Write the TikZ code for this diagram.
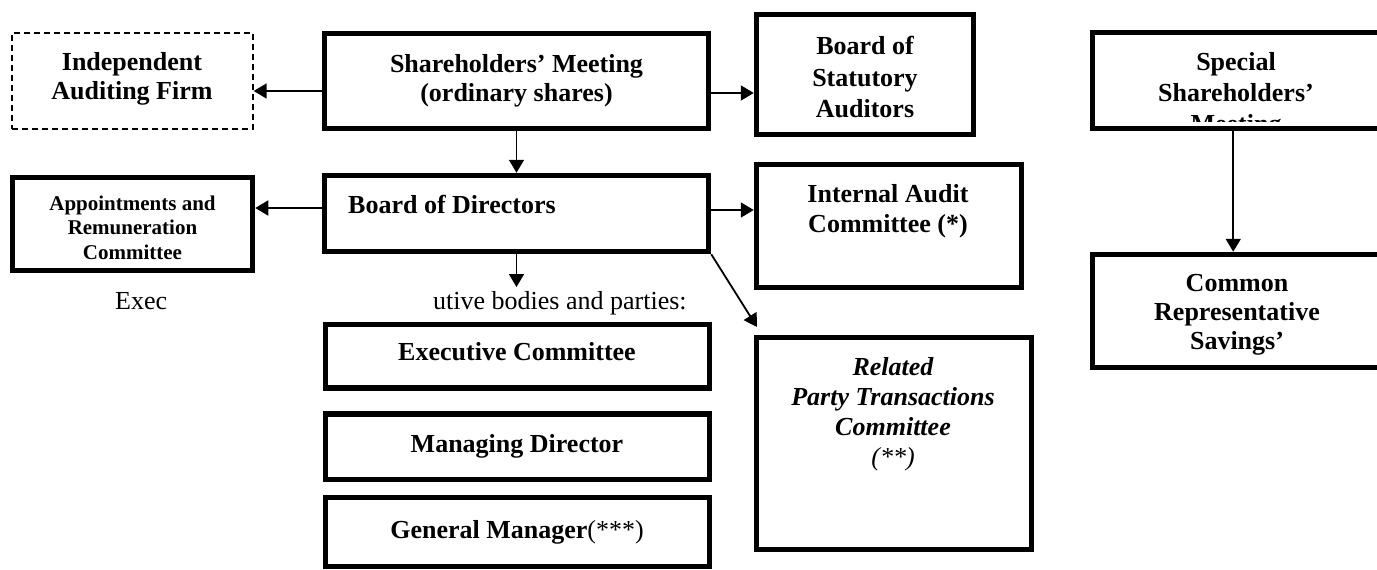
\documentclass[tikz,border=0pt]{standalone}
\usepackage{fontspec}
\setmainfont{Liberation Serif}
\usetikzlibrary{arrows.meta,calc}
\begin{document}
\begin{tikzpicture}[x=1pt,y=-1pt,
  box/.style={draw,line width=5.5pt,inner sep=0pt},
  dbox/.style={draw,line width=1.4pt,dash pattern=on 6pt off 4pt,inner sep=0pt},
  lbl/.style={inner sep=0pt,align=center,font=\fontsize{26}{29}\selectfont\bfseries},
  plain/.style={inner sep=0pt,font=\fontsize{26}{29}\selectfont},
  conn/.style={line width=1.8pt,-{Triangle[length=13pt,width=15pt]}},
]
\useasboundingbox (0,0) rectangle (1377,570);
\fill[white] (0,0) rectangle (1377,570);
\clip (0,0) rectangle (1377,570);

% frames
\node[dbox,minimum width=241,minimum height=96] (ind) at (132.5,81) {};
\node[box,minimum width=384,minimum height=95]  (sm)  at (516.5,81) {};
\node[box,minimum width=217,minimum height=120] (bsa) at (865,74.5) {};
\node[box,minimum width=384,minimum height=76]  (bod) at (516.5,213.5) {};
\node[box,minimum width=240,minimum height=93]  (arc) at (132.5,224) {};
\node[box,minimum width=265,minimum height=123] (iac) at (889,226) {};
\node[box,minimum width=275,minimum height=212] (rpt) at (894,443.5) {};
\node[box,minimum width=384,minimum height=63.5] (ec) at (517.5,356.25) {};
\node[box,minimum width=384,minimum height=65.5] (md) at (517.5,446.75) {};
\node[box,minimum width=384,minimum height=69]  (gm)  at (517.5,532) {};
\node[box,minimum width=289.5,minimum height=113] (cr) at (1237.25,311) {};

% texts
\node[lbl] (ind-t) at (132,78.5) {Independent\\Auditing Firm};
\node[lbl] (sm-t) at (516.5,80.5) {Shareholders' Meeting\\(ordinary shares)};
\node[lbl,font=\fontsize{26}{31.5}\selectfont\bfseries] (bsa-t) at (865,77.5) {Board of\\Statutory\\Auditors};
\node[lbl,anchor=base west] (bod-t) at (348,213) {Board of Directors};
\node[lbl,font=\fontsize{26}{30}\selectfont\bfseries] (iac-t) at (888,211) {Internal Audit\\Committee (*)};
\node[lbl,font=\fontsize{21}{24.5}\selectfont\bfseries] (arc-t) at (132.5,227.5) {Appointments and\\Remuneration\\Committee};
\node[plain,anchor=base west] (ex1) at (115,309) {Exec};
\node[plain,anchor=base west] (ex2) at (433,309) {utive bodies and parties:};
\node[lbl,anchor=base] (ec-t) at (517,360) {Executive Committee};
\node[lbl,anchor=base] (md-t) at (517,452) {Managing Director};
\node[lbl,anchor=base] (gm-t) at (517,538) {General Manager\textmd{(***)}};
\node[lbl,font=\fontsize{26}{30}\selectfont\bfseries\itshape] (rpt-t) at (893,414) {Related\\Party Transactions\\Committee\\\textmd{(**)}};
\node[lbl] (cr-t) at (1237,315) {Common\\Representative\\Savings'};
% the third line of this title runs past the frame and is cut off by it
\begin{scope}
  \clip (1095,35) rectangle (1377,121);
  \node[lbl,font=\fontsize{26}{31}\selectfont\bfseries] (ssm-t) at (1236,95) {Special\\Shareholders'\\Meeting};
\end{scope}
\node[box,minimum width=289.5,minimum height=96] (ssm) at (1237.25,80.5) {};

% connectors
\coordinate (eb) at (516.5,287);
\coordinate (rp) at (757,327);
\coordinate (p1) at ($(sm.west)+(0,10)$);
\coordinate (p2) at ($(sm.east)+(0,12)$);
\coordinate (p3) at ($(bod.west)+(0,-5.5)$);
\coordinate (p4) at ($(bod.east)+(0,-3.5)$);
\coordinate (p5) at ($(ssm.south)+(-4,0)$);
\draw[conn] (p1) -- (p1 -| ind.east);
\draw[conn] (p2) -- (p2 -| bsa.west);
\draw[conn] (sm.south) -- (bod.north);
\draw[conn] (p3) -- (p3 -| arc.east);
\draw[conn] (p4) -- (p4 -| iac.west);
\draw[conn] (bod.south) -- (eb);
\draw[conn] (bod.south east) -- (rp);
\draw[conn] (p5) -- (p5 |- cr.north);
\end{tikzpicture}
\end{document}
